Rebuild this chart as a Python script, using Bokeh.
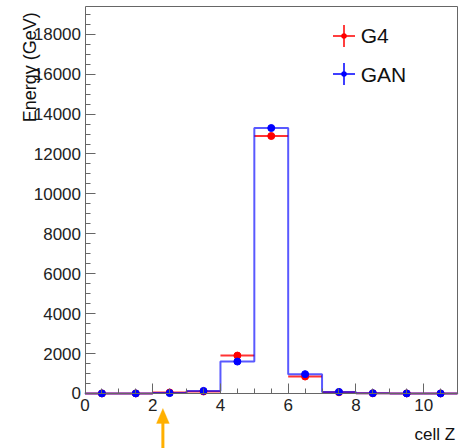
import numpy as np
from bokeh.plotting import figure
from bokeh.models import (ColumnDataSource, Range1d, Label, Legend, LegendItem,
                          Arrow, FixedTicker, PolyAnnotation, LinearAxis)
from bokeh.embed import file_html
from bokeh.resources import INLINE

# ---- data ----
bin_edges = [0, 1, 2, 3, 4, 5, 6, 7, 8, 9, 10, 11]
g4_energy = [5, 5, 50, 100, 1900, 12900, 850, 60, 10, 5, 3]
gan_energy = [5, 5, 20, 130, 1600, 13300, 970, 80, 15, 5, 3]
x_ticks = [0, 2, 4, 6, 8, 10]
y_ticks = [0, 2000, 4000, 6000, 8000, 10000, 12000, 14000, 16000, 18000]
x_title = "cell Z"
y_title = "Energy (GeV)"
series_names = ["G4", "GAN"]
arrow_x = 2.3

X_MAX = 11
Y_MAX = 19390
# view extends beyond the axes so titles/arrow outside the axes box are drawn
X_VIEW = (-2.4953, 11.118)
Y_VIEW = (-2756, 19690)

FONT = "Liberation Sans"
RED = "#ff0000"
BLUE = "#0000ff"
AXC = "#666666"
ORANGE = "#ffb000"

lo = np.array(bin_edges[:-1], dtype=float)
hi = np.array(bin_edges[1:], dtype=float)
ctr = (lo + hi) / 2

p = figure(width=461, height=448, output_backend="svg", toolbar_location=None,
           x_range=Range1d(*X_VIEW), y_range=Range1d(*Y_VIEW),
           min_border_left=0, min_border_right=0, min_border_top=0,
           min_border_bottom=0)
p.background_fill_color = "white"
p.border_fill_color = "white"
p.outline_line_color = None
p.grid.visible = False

xa = p.xaxis[0]
ya = p.yaxis[0]
xa.fixed_location = 0
xa.bounds = (0, X_MAX)
ya.fixed_location = 0
ya.bounds = (0, Y_MAX)

for ax in (xa, ya):
    ax.axis_line_color = AXC
    ax.major_tick_line_color = AXC
    ax.minor_tick_line_color = AXC
    ax.major_tick_out = 0
    ax.major_tick_in = 10
    ax.minor_tick_out = 0
    ax.minor_tick_in = 5
    ax.major_label_text_font = FONT
    ax.major_label_text_font_size = "17px"
    ax.major_label_text_color = "#222222"

xa.ticker = FixedTicker(ticks=x_ticks, minor_ticks=list(np.arange(0, X_MAX + 0.01, 0.5)))
ya.ticker = FixedTicker(ticks=y_ticks, minor_ticks=list(np.arange(0, Y_MAX, 500)))
xa.major_label_standoff = 6
ya.major_label_standoff = 4

# top and right frame borders (axes without ticks, fixed at the range ends)
top_ax = LinearAxis(fixed_location=Y_MAX, bounds=(0, X_MAX), ticker=FixedTicker(ticks=[]),
                    axis_line_color=AXC, major_label_text_font_size="0px")
right_ax = LinearAxis(fixed_location=X_MAX, bounds=(0, Y_MAX), ticker=FixedTicker(ticks=[]),
                      axis_line_color=AXC, major_label_text_font_size="0px")
p.add_layout(top_ax, "above")
p.add_layout(right_ax, "right")

g4_src = ColumnDataSource(dict(lo=lo, hi=hi, x=ctr, y=g4_energy))
gan_src = ColumnDataSource(dict(lo=lo, hi=hi, x=ctr, y=gan_energy))

# G4 horizontal bars across bins (under the GAN outline)
p.segment(x0="lo", x1="hi", y0="y", y1="y", source=g4_src,
          line_color=RED, line_width=2, line_alpha=0.8)

# GAN step histogram outline
step_x = [bin_edges[0]] + list(np.repeat(bin_edges, 2)[1:-1]) + [bin_edges[-1]]
step_y = [0] + list(np.repeat(gan_energy, 2)) + [0]
p.line(step_x, step_y, line_color=BLUE, line_width=2, line_alpha=0.65)

p.scatter(x="x", y="y", source=g4_src, marker="circle", size=7,
          fill_color=RED, line_color=RED)
p.scatter(x="x", y="y", source=gan_src, marker="circle", size=7,
          fill_color=BLUE, line_color=BLUE)

# legend-only renderers (size 0 -> invisible in plot)
g4_cross = p.scatter(x="x", y="y", source=g4_src, marker="cross", size=0,
                     line_color=RED, line_width=1.5)
g4_dot = p.scatter(x="x", y="y", source=g4_src, marker="dot", size=0,
                   line_color=RED, fill_color=RED)
gan_cross = p.scatter(x="x", y="y", source=gan_src, marker="cross", size=0,
                      line_color=BLUE, line_width=1.5)
gan_dot = p.scatter(x="x", y="y", source=gan_src, marker="dot", size=0,
                    line_color=BLUE, fill_color=BLUE)

def make_legend(rends, loc):
    return Legend(items=[LegendItem(label=" ", renderers=rends)],
                  location=loc, glyph_width=55, glyph_height=55,
                  label_standoff=0, spacing=0, padding=0, margin=0,
                  border_line_color=None, background_fill_alpha=0,
                  label_text_font_size="10px")

p.add_layout(make_legend([g4_cross, g4_dot], (316, 385)), "center")
p.add_layout(make_legend([gan_cross, gan_dot], (316, 347)), "center")

lbl_style = dict(text_font=FONT, text_color="#111111", text_baseline="alphabetic")
p.add_layout(Label(x=8.14, y=17930, text=series_names[0], text_font_size="21px", **lbl_style))
p.add_layout(Label(x=8.14, y=16000, text=series_names[1], text_font_size="21px", **lbl_style))

# axis titles
p.add_layout(Label(x=10.93, y=-2030, text=x_title, text_align="right",
                   text_font_size="17px", **lbl_style))
p.add_layout(Label(x=-1.61, y=19103, text=y_title, angle=np.pi / 2,
                   text_align="right", text_font_size="18px", **lbl_style))

# orange arrow annotation below the axis: shaft + filled head
p.add_layout(Arrow(x_start=arrow_x, y_start=Y_VIEW[0], x_end=arrow_x, y_end=-1400,
                   line_color=ORANGE, line_width=3, start=None, end=None))
p.add_layout(PolyAnnotation(xs=[arrow_x - 0.19, arrow_x + 0.19, arrow_x],
                            ys=[-1500, -1500, -750],
                            fill_color=ORANGE, fill_alpha=1.0, line_color=ORANGE,
                            line_width=1))

open("out.html", "w").write(file_html(p, INLINE))
